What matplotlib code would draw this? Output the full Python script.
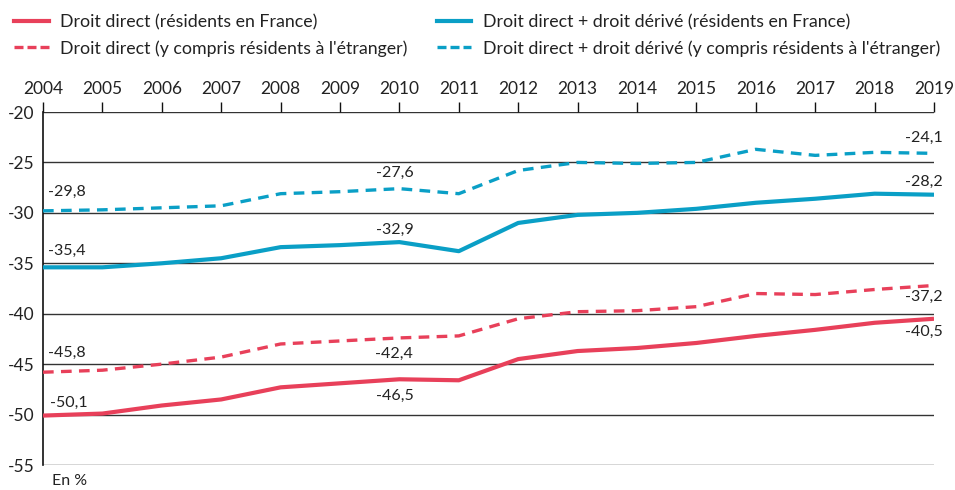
import matplotlib
matplotlib.use("Agg")
import matplotlib.pyplot as plt
from matplotlib.lines import Line2D

plt.rcParams['font.family'] = ['Lato', 'DejaVu Sans']

years = list(range(2004, 2020))
dd_france = [-50.1, -49.9, -49.1, -48.5, -47.3, -46.9, -46.5, -46.6,
             -44.5, -43.7, -43.4, -42.9, -42.2, -41.6, -40.9, -40.5]
dd_etranger = [-45.8, -45.6, -45.0, -44.3, -43.0, -42.7, -42.4, -42.2,
               -40.5, -39.8, -39.7, -39.3, -38.0, -38.1, -37.6, -37.2]
ddd_france = [-35.4, -35.4, -35.0, -34.5, -33.4, -33.2, -32.9, -33.8,
              -31.0, -30.2, -30.0, -29.6, -29.0, -28.6, -28.1, -28.2]
ddd_etranger = [-29.8, -29.7, -29.5, -29.3, -28.1, -27.9, -27.6, -28.1,
                -25.8, -25.0, -25.1, -25.0, -23.7, -24.3, -24.0, -24.1]

legend_labels = [
    "Droit direct (résidents en France)",
    "Droit direct (y compris résidents à l'étranger)",
    "Droit direct + droit dérivé (résidents en France)",
    "Droit direct + droit dérivé (y compris résidents à l'étranger)",
]
y_ticks = [-20, -25, -30, -35, -40, -45, -50, -55]
unit_label = "En %"

RED = "#E8405A"
BLUE = "#0A9FC6"
TXT = "#222222"

fig = plt.figure(figsize=(9.55, 4.9), dpi=100)
ax = fig.add_axes([43/955, 1-465/490, (934-43)/955, (465-112)/490])

ax.set_xlim(2004, 2019)
ax.set_ylim(-55, -20)

for y in y_ticks:
    ax.axhline(y, color="#333333", lw=1.0, zorder=1)

ax.plot(years, dd_france, color=RED, lw=3.0, solid_capstyle='butt', zorder=3)
ax.plot(years, dd_etranger, color=RED, lw=2.4, ls=(0, (3.2, 2.2)), zorder=3)
ax.plot(years, ddd_france, color=BLUE, lw=3.0, solid_capstyle='butt', zorder=3)
ax.plot(years, ddd_etranger, color=BLUE, lw=2.4, ls=(0, (3.2, 2.2)), zorder=3)

for s in ['right', 'bottom', 'top']:
    ax.spines[s].set_visible(False)
ax.spines['left'].set_color('#111111')
ax.spines['left'].set_linewidth(1.2)

ax.xaxis.tick_top()
ax.set_xticks(years)
ax.set_xticklabels([str(y) for y in years])
ax.tick_params(axis='x', direction='out', length=7.5, width=1.0, color='#111111',
               pad=3, labelsize=12.5, labelcolor=TXT)
ax.set_yticks(y_ticks)
ax.set_yticklabels([str(y) for y in y_ticks])
ax.tick_params(axis='y', length=0, pad=6, labelsize=12.5, labelcolor=TXT)

def fmt(v):
    return f"{v:.1f}".replace('.', ',')

def lab(series, idx, dx_px, dy_px, ha):
    ax.annotate(fmt(series[idx]), xy=(years[idx], series[idx]),
                xytext=(dx_px*0.72, dy_px*0.72), textcoords='offset points',
                ha=ha, va='center', fontsize=11.5, color=TXT, zorder=5)

last = len(years) - 1
mid = years.index(2010)
lab(ddd_etranger, 0, 5, 19, 'left')
lab(ddd_france, 0, 5, 16.5, 'left')
lab(dd_etranger, 0, 5, 19.5, 'left')
lab(dd_france, 0, 7, 13, 'left')
lab(ddd_etranger, mid, -5, 15.5, 'center')
lab(ddd_france, mid, -5, 12, 'center')
lab(dd_etranger, mid, -5, -16, 'center')
lab(dd_france, mid, -5, -16.5, 'center')
lab(ddd_etranger, last, 9, 15, 'right')
lab(ddd_france, last, 9, 13, 'right')
lab(dd_etranger, last, 9, -11, 'right')
lab(dd_france, last, 9, -13, 'right')

fig.text(52/955, 1-481/490, unit_label, ha='left', va='center', fontsize=11.5, color=TXT)

handles = [
    Line2D([], [], color=RED, lw=3.0),
    Line2D([], [], color=RED, lw=2.4, ls=(0, (2.7, 1.2))),
    Line2D([], [], color=BLUE, lw=3.0),
    Line2D([], [], color=BLUE, lw=2.4, ls=(0, (2.7, 1.2))),
]
fig.legend(handles, legend_labels, ncol=2, frameon=False,
           loc='upper left', bbox_to_anchor=(7/955, 1-7/490),
           fontsize=12.8, handlelength=1.95, handletextpad=0.65,
           columnspacing=1.62, labelspacing=0.55, borderaxespad=0,
           labelcolor=TXT)

fig.savefig("out.png", dpi=100)
